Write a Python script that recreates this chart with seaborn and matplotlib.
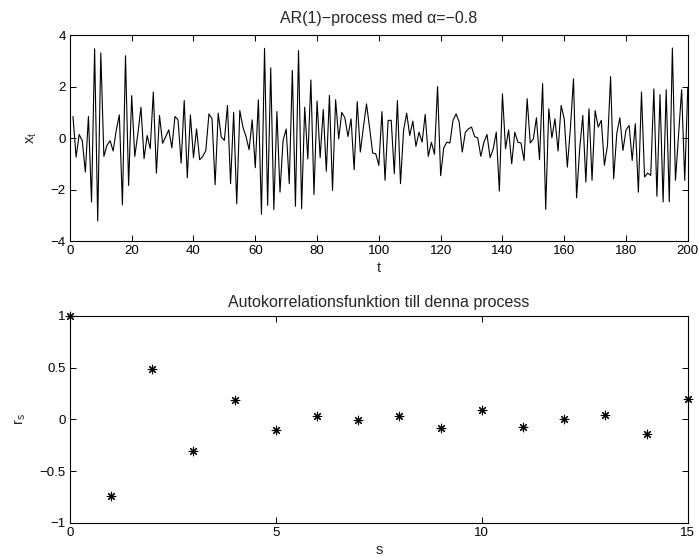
import numpy as np
import pandas as pd
import matplotlib
matplotlib.use("Agg")
import matplotlib.pyplot as plt
import seaborn as sns

# AR(1) series, t = 1..200
x_values = [
    0.84, -0.74, 0.14, -0.1, -1.32, 0.84, -2.48, 3.47, -3.22, 3.31,
    -0.71, -0.28, -0.1, -0.5, 0.3, 0.9, -2.59, 3.2, -1.84, 1.65,
    -0.71, 0.17, 1.2, -0.8, 0.1, -0.41, 1.79, -1.36, 0.88, -0.2, 0.05,
    0.32, -0.38, 0.84, 0.71, -0.97, 1.46, -1.54, 0.9, -0.76, 0.36,
    -0.84, -0.71, -0.48, 0.94, 0.75, -1.81, 0.97, 0.04, -0.09, 1.27,
    -1.77, 1.0, -2.55, 1.07, 0.43, 0.06, -0.45, 0.71, -1.15, 1.49,
    -2.96, 3.49, -2.61, 2.73, -2.78,
    1.03, -2.1, -0.09, 0.35, -1.77, 2.63, -2.65, 3.4, -2.74, 1.2,
    -0.81, 2.26, -2.19, 1.44, -0.76, 1.11, -1.29, 1.66, -2.03, 1.49,
    -0.03, 1.0, 0.79, 0.06, 0.75, -1.23, 1.42, -0.54, 0.43, 1.33,
    0.4, -0.58, -0.61, -1.06,
    1.03, -1.64, 0.69, 0.69, -1.38, 1.46, -1.77, 0.3, 0.97, 0.1,
    0.66, -0.32, 0.23, -0.16, 0.92, -0.71, -0.16, -0.63, 2.0, -1.46,
    -0.38, -0.16, -0.19, 0.69, 0.94, 0.62, -0.54, 0.23, 0.36, 0.43,
    0.06, 0.01, -0.71, -0.16,
    0.14, -0.76, -0.43, 0.23, -2.06, 1.72, -0.41, 0.32, -1.0, 0.23,
    -0.16, -0.19, -0.87, 1.53, -0.19, -0.03, 0.79, -0.84, 2.12, -2.77,
    1.14, 0.01, 0.75, -0.5, 1.27, 0.75, -1.13, 0.4, 2.3, -2.32,
    -0.41, 0.88, -1.71, 1.14,
    -1.64, 1.07, 0.43, 0.69, -1.06, -0.28, 2.39, -1.58, 0.17, 0.79,
    -0.48, 0.32, 0.49, -0.87, 0.56, -2.1, 1.79, -1.51, -1.36, -1.45,
    1.91, -2.26, 1.69, -2.48, 1.88, -2.48, 3.5, -1.64, 0.1, 1.88,
    -1.64, 1.98,
]
t_values = list(range(1, len(x_values) + 1))

# Autocorrelation r_s for s = 0..15
s_values = list(range(0, 16))
r_values = [1.0, -0.74, 0.49, -0.31, 0.19, -0.10, 0.03, -0.01,
            0.03, -0.08, 0.09, -0.07, 0.0, 0.04, -0.14, 0.2]

top_xticks = list(range(0, 201, 20))
top_yticks = [-4, -2, 0, 2, 4]
top_yticklabels = ["\u22124", "\u22122", "0", "2", "4"]
bot_xticks = [0, 5, 10, 15]
bot_yticks = [-1, -0.5, 0, 0.5, 1]
bot_yticklabels = ["\u22121", "\u22120.5", "0", "0.5", "1"]

sns.set_style("ticks")
plt.rcParams["font.family"] = ["Liberation Sans", "DejaVu Sans"]
plt.rcParams["axes.unicode_minus"] = True
FS_TICK = 9.5
FS_LABEL = 10.5
FS_TITLE = 11.5

fig = plt.figure(figsize=(6.99, 5.58), dpi=100)
ax1 = fig.add_axes([0.100, 0.568, 0.884, 0.369])
ax2 = fig.add_axes([0.100, 0.063, 0.884, 0.371])

df1 = pd.DataFrame({"t": t_values, "x": x_values})
sns.lineplot(data=df1, x="t", y="x", ax=ax1, color="black", linewidth=0.8)
ax1.set_xlim(0, 200)
ax1.set_ylim(-4, 4)
ax1.set_xticks(top_xticks)
ax1.set_yticks(top_yticks)
ax1.set_yticklabels(top_yticklabels)
ax1.set_xlabel("t", fontsize=FS_LABEL, labelpad=3)
ax1.set_ylabel("x$_\\mathregular{t}$", fontsize=FS_LABEL, labelpad=8)
ax1.set_title("AR(1)\u2212process med \u03b1=\u22120.8", fontsize=FS_TITLE, pad=9)

df2 = pd.DataFrame({"s": s_values, "r": r_values})
asterisk = (8, 2, 0)
sns.scatterplot(data=df2, x="s", y="r", ax=ax2, color="black",
                marker=asterisk, s=38, linewidth=0.8, edgecolor="black",
                clip_on=False, zorder=5)
ax2.set_xlim(0, 15)
ax2.set_ylim(-1, 1)
ax2.set_xticks(bot_xticks)
ax2.set_yticks(bot_yticks)
ax2.set_yticklabels(bot_yticklabels)
ax2.set_xlabel("s", fontsize=FS_LABEL, labelpad=3)
ax2.set_ylabel("r$_\\mathregular{s}$", fontsize=FS_LABEL, labelpad=8)
ax2.set_title("Autokorrelationsfunktion till denna process", fontsize=FS_TITLE, pad=6)

for ax in (ax1, ax2):
    for sp in ax.spines.values():
        sp.set_visible(True)
        sp.set_linewidth(0.8)
        sp.set_color("black")
    ax.tick_params(direction="in", top=True, right=True, length=4,
                   width=0.7, labelsize=FS_TICK, colors="black", pad=3)

fig.savefig("out.png", dpi=100)
